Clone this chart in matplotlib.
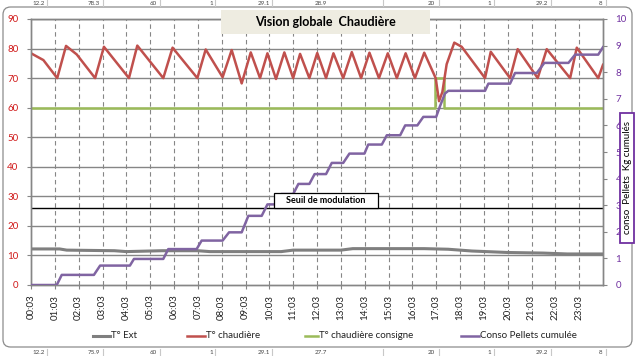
import matplotlib
matplotlib.use('Agg')
import matplotlib.pyplot as plt
from matplotlib.patches import Rectangle, FancyBboxPatch
from matplotlib.lines import Line2D

plt.rcParams['font.family'] = ['Lato', 'DejaVu Sans']

# ---------------- data ----------------
hour_ticks = list(range(24))
hour_labels = ["00:03", "01:03", "02:03", "03:03", "04:03", "05:03", "06:03", "07:03",
               "08:03", "09:03", "10:03", "11:03", "12:03", "13:03", "14:03", "15:03",
               "16:03", "17:03", "18:03", "19:03", "20:03", "21:03", "22:03", "23:03"]

ext_t = [0, 1.2, 1.5, 3.5, 4.0, 5.5, 7.0, 7.5, 10.5, 11.0, 13.0, 13.5, 16.5, 17.5,
         18.5, 20.0, 21.5, 22.5, 24.0]
ext_v = [12.2, 12.2, 11.8, 11.6, 11.3, 11.6, 11.6, 11.3, 11.3, 11.8, 11.8, 12.3, 12.3,
         12.1, 11.5, 11.0, 10.8, 10.5, 10.5]

chaud_t = [0, 0.52, 1.10, 1.47, 1.92, 2.69, 3.06, 4.11, 4.46, 5.55, 5.94, 6.98, 7.33,
           8.04, 8.42, 8.84, 9.22, 9.61, 9.92, 10.28, 10.63, 11.0, 11.29, 11.68, 12.01,
           12.38, 12.69, 13.1, 13.46, 13.85, 14.2, 14.6, 14.97, 15.35, 15.72, 16.11,
           16.5, 16.98, 17.12, 17.26, 17.44, 17.76, 18.07, 19.05, 19.29, 20.1, 20.42,
           21.26, 21.64, 22.62, 22.9, 23.8, 24.0]
chaud_v = [78.4, 76.1, 70, 80.9, 78, 70, 80.6, 70, 81, 70, 80.3, 70, 79.7,
           70.3, 79.5, 68.2, 78.7, 70, 78.4, 69.7, 78.7, 70, 78.2, 70, 78.5,
           70, 78.4, 70, 78.8, 70, 78.6, 70, 78.4, 70, 78.4, 70,
           78.6, 70, 62.2, 65.3, 74.7, 82, 80.6, 70, 78.9, 70, 79.8,
           70, 79.8, 70, 80.3, 70, 74.5]

consigne_t = [0, 16.95, 16.95, 17.33, 17.33, 24.0]
consigne_v = [60, 60, 70, 70, 60, 60]

pellet_t = [0, 1.08, 1.29, 2.64, 2.9, 4.15, 4.32, 5.55, 5.76, 6.95, 7.16, 8.04, 8.31,
            8.84, 9.12, 9.68, 9.92, 10.31, 10.5, 11.0, 11.22, 11.68, 11.9, 12.38, 12.62,
            13.1, 13.36, 13.99, 14.15, 14.72, 14.93, 15.49, 15.7, 16.21, 16.46, 17.0,
            17.16, 17.37, 17.51, 19.05, 19.19, 20.1, 20.31, 21.22, 21.54, 22.55, 22.83,
            23.8, 24.0]
pellet_v = [0, 0, 0.38, 0.38, 0.73, 0.73, 0.98, 0.98, 1.35, 1.35, 1.67, 1.67, 1.98,
            1.98, 2.6, 2.6, 3.03, 3.03, 3.42, 3.42, 3.8, 3.8, 4.17, 4.17, 4.59,
            4.59, 4.94, 4.94, 5.28, 5.28, 5.63, 5.63, 6.0, 6.0, 6.32, 6.32,
            6.72, 7.2, 7.3, 7.3, 7.57, 7.57, 7.97, 7.97, 8.35, 8.35, 8.66,
            8.66, 8.94]

seuil_value = 26.2
left_ticks = [0, 10, 20, 30, 40, 50, 60, 70, 80, 90]
right_ticks = [0, 1, 2, 3, 4, 5, 6, 7, 8, 9, 10]

top_cells = ["12.2", "78.3", "60", "1", "29.1", "28.9", "20", "1", "29.2", "8"]
bottom_cells = ["12.2", "75.9", "60", "1", "29.1", "27.7", "20", "1", "29.2", "8"]

# ---------------- styling ----------------
W, H = 636, 356
C_EXT = '#7F7F7F'
C_RED = '#C0504D'
C_GREEN = '#9BBB59'
C_PURPLE = '#8064A2'
C_AXIS = '#868686'
C_LEFTLBL = '#D01818'
C_RIGHTLBL = '#7030A0'


def fx(x):
    return x / W


def fy(y):
    return 1 - y / H


fig = plt.figure(figsize=(W / 100, H / 100), dpi=100)
fig.patch.set_facecolor('white')

# spreadsheet strips & chart frame
seps = [47, 103, 160, 215, 272, 383, 439, 494, 551, 606]
cell_right = [45, 100, 157, 213, 270, 327, 435, 491, 548, 602]
for s in seps:
    fig.add_artist(Line2D([fx(s), fx(s)], [fy(0), fy(6)], color='#C8C8C8', lw=0.8))
    fig.add_artist(Line2D([fx(s), fx(s)], [fy(349), fy(356)], color='#C8C8C8', lw=0.8))
for xr, t in zip(cell_right, top_cells):
    fig.text(fx(xr), fy(3.6), t, ha='right', va='center', fontsize=4.5, color='#444444')
for xr, t in zip(cell_right, bottom_cells):
    fig.text(fx(xr), fy(352.3), t, ha='right', va='center', fontsize=4.5, color='#444444')

frame = FancyBboxPatch((fx(3), fy(347)), fx(632) - fx(3), fy(7) - fy(347),
                       boxstyle='round,pad=0,rounding_size=0.012',
                       mutation_aspect=W / H,
                       transform=fig.transFigure, facecolor='white',
                       edgecolor='#8C8C8C', lw=0.9, zorder=0)
fig.add_artist(frame)

# axes
ax = fig.add_axes([fx(31), fy(285), fx(603) - fx(31), fy(19) - fy(285)])
ax.set_facecolor('none')
ax.set_xlim(0, 24)
ax.set_ylim(0, 90)
ax.set_yticks(left_ticks)
ax.set_xticks(hour_ticks)
ax.set_xticklabels(hour_labels, rotation=90, fontsize=7, color='#222222')
ax.tick_params(axis='y', labelsize=7, labelcolor=C_LEFTLBL, color=C_AXIS,
               direction='out', length=3, pad=6)
ax.tick_params(axis='x', color=C_AXIS, direction='out', length=3, pad=4)
for sp in ax.spines.values():
    sp.set_color(C_AXIS)
    sp.set_linewidth(1.0)

for v in left_ticks[1:]:
    ax.axhline(v, color=C_AXIS, lw=1.0, zorder=1)
for h in hour_ticks[1:]:
    ax.axvline(h, color=C_AXIS, lw=0.8, ls=(0, (4, 3)), zorder=1)

ax.axhline(seuil_value, color='black', lw=1.0, zorder=2)

ax.plot(ext_t, ext_v, color=C_EXT, lw=2.2, zorder=3, solid_joinstyle='round')
ax.plot(consigne_t, consigne_v, color=C_GREEN, lw=1.8, zorder=3)
ax.plot(chaud_t, chaud_v, color=C_RED, lw=1.8, zorder=4, solid_joinstyle='round')

ax2 = ax.twinx()
ax2.set_ylim(0, 10)
ax2.set_yticks(right_ticks)
ax2.tick_params(axis='y', labelsize=7, labelcolor=C_RIGHTLBL, color=C_AXIS,
                direction='out', length=3, pad=6)
for sp in ax2.spines.values():
    sp.set_color(C_AXIS)
    sp.set_linewidth(1.0)
ax2.plot(pellet_t, pellet_v, color=C_PURPLE, lw=1.8, zorder=3, solid_joinstyle='round')

# title box
fig.add_artist(Rectangle((fx(221), fy(34)), fx(430) - fx(221), fy(10) - fy(34),
                         transform=fig.transFigure, facecolor='#EEECE1',
                         edgecolor='none', zorder=5))
fig.text(fx(325.5), fy(22), 'Vision globale  Chaudière', ha='center', va='center',
         fontsize=9, fontweight='bold', color='black', zorder=6)

# seuil label box
fig.add_artist(Rectangle((fx(274), fy(208)), fx(378) - fx(274), fy(193) - fy(208),
                         transform=fig.transFigure, facecolor='white',
                         edgecolor='black', lw=0.9, zorder=5))
fig.text(fx(326), fy(200.5), 'Seuil de modulation', ha='center', va='center',
         fontsize=6.5, fontweight='bold', color='black', zorder=6)

# right axis title box
fig.add_artist(Rectangle((fx(620), fy(243)), fx(634) - fx(620), fy(113) - fy(243),
                         transform=fig.transFigure, facecolor='white',
                         edgecolor=C_RIGHTLBL, lw=1.3, zorder=5))
fig.text(fx(627.5), fy(178), 'conso  Pellets  Kg cumulés', ha='center', va='center',
         rotation=90, fontsize=7, color='black', zorder=6)

# legend
legend_items = [
    (93, 110, C_EXT, 2.2, 'T° Ext'),
    (187, 205, C_RED, 1.8, 'T° chaudière'),
    (305, 318, C_GREEN, 1.8, 'T° chaudière consigne'),
    (461, 479, C_PURPLE, 1.8, 'Conso Pellets cumulée'),
]
ly = 336
for x0, x1, c, lw, lab in legend_items:
    fig.add_artist(Line2D([fx(x0), fx(x1)], [fy(ly), fy(ly)], color=c, lw=lw))
    fig.text(fx(x1 + 1), fy(ly), lab, ha='left', va='center', fontsize=7, color='#222222')

fig.savefig('out.png', dpi=100)
